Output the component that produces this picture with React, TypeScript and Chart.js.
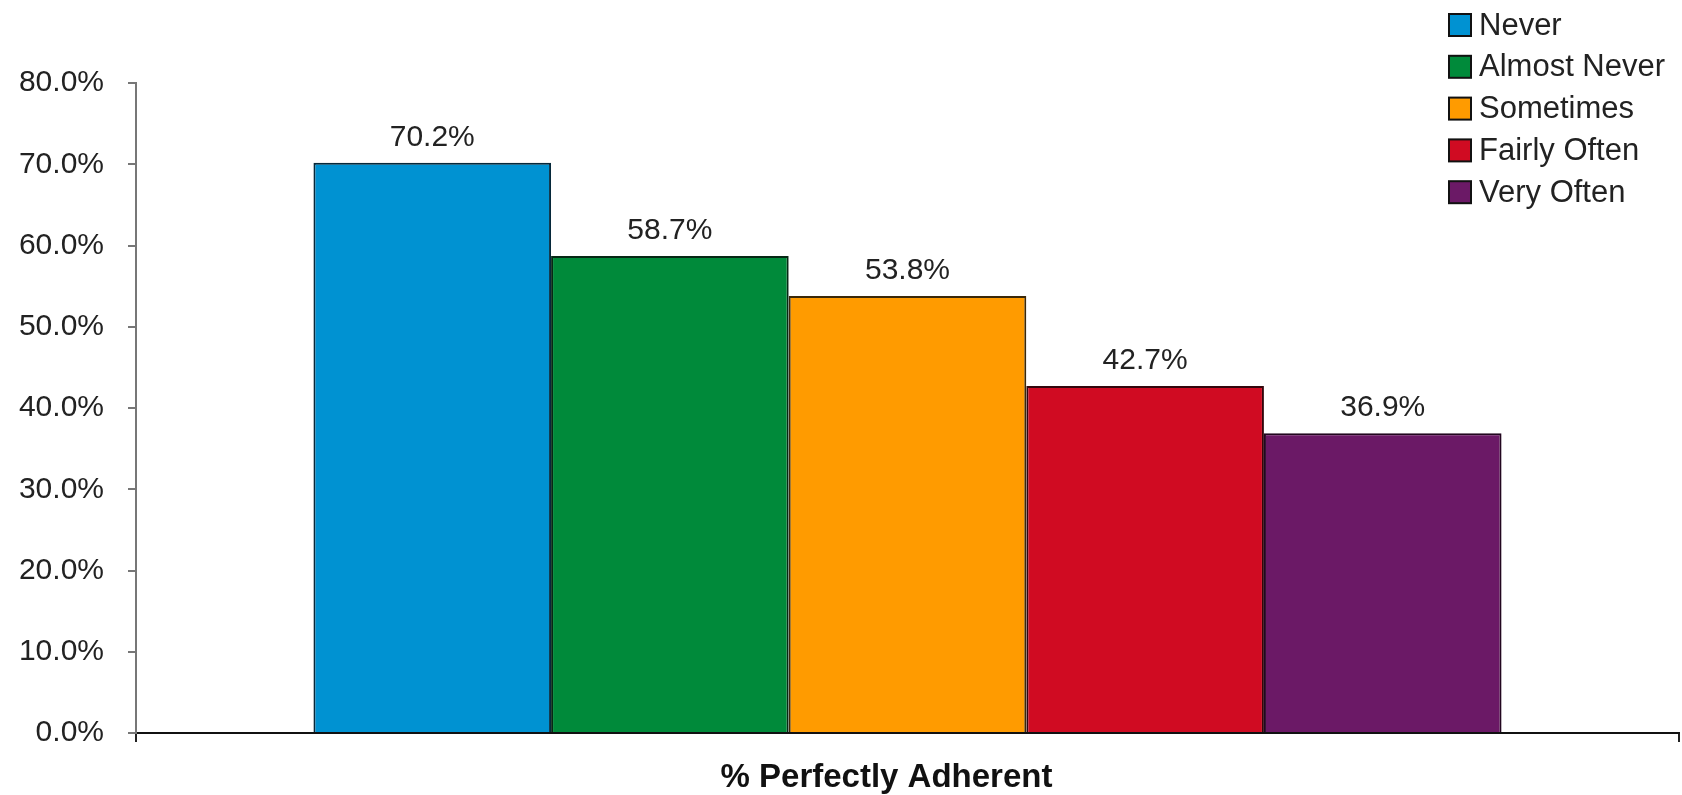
import React, { useEffect, useRef } from "react";
import { Chart, registerables } from "chart.js";

Chart.register(...registerables);

const categories = ["% Perfectly Adherent"];
const seriesNames = ["Never", "Almost Never", "Sometimes", "Fairly Often", "Very Often"];
const seriesValues = [70.2, 58.7, 53.8, 42.7, 36.9];
const seriesColors = ["#0092D2", "#008A3A", "#FF9B00", "#D00B22", "#6B1966"];
const seriesBorders = ["#06283A", "#062814", "#3A2808", "#33060C", "#22061F"];
const yTicks = [0, 10, 20, 30, 40, 50, 60, 70, 80];

const FONT = "'Liberation Sans', Arial, sans-serif";

const valueLabels = {
  id: "valueLabels",
  afterDatasetsDraw(chart: any) {
    const ctx = chart.ctx;
    ctx.save();
    ctx.font = `30px ${FONT}`;
    ctx.fillStyle = "#222";
    ctx.textAlign = "center";
    ctx.textBaseline = "alphabetic";
    chart.data.datasets.forEach((ds: any, i: number) => {
      const meta = chart.getDatasetMeta(i);
      meta.data.forEach((el: any, j: number) => {
        const v = ds.data[j];
        ctx.fillText(`${v.toFixed(1)}%`, el.x, el.y - 17);
      });
    });
    ctx.restore();
  },
};

const sideLegend = {
  id: "sideLegend",
  afterDraw(chart: any) {
    const ctx = chart.ctx;
    ctx.save();
    ctx.font = `31px ${FONT}`;
    ctx.textBaseline = "middle";
    ctx.textAlign = "left";
    const x0 = 1449;
    const y0 = 25;
    const step = 41.8;
    chart.data.datasets.forEach((ds: any, i: number) => {
      const cy = y0 + i * step;
      ctx.fillStyle = ds.backgroundColor;
      ctx.fillRect(x0, cy - 11, 22, 22);
      ctx.strokeStyle = "#111";
      ctx.lineWidth = 2;
      ctx.strokeRect(x0, cy - 11, 22, 22);
      ctx.fillStyle = "#222";
      ctx.fillText(ds.label, x0 + 30, cy + 1);
    });
    ctx.restore();
  },
};

export default function App() {
  const ref = useRef<HTMLCanvasElement | null>(null);

  useEffect(() => {
    if (!ref.current) return;
    const chart = new Chart(ref.current, {
      type: "bar",
      data: {
        labels: categories,
        datasets: seriesNames.map((name, i) => ({
          label: name,
          data: [seriesValues[i]],
          backgroundColor: seriesColors[i],
          borderColor: seriesBorders[i],
          borderWidth: 2,
          categoryPercentage: 0.77,
          barPercentage: 1,
        })),
      },
      options: {
        animation: false,
        responsive: false,
        devicePixelRatio: 1,
        layout: { padding: { top: 83, right: 3, left: 0, bottom: 0 } },
        plugins: {
          legend: { display: false },
          tooltip: { enabled: false },
        },
        scales: {
          x: {
            offset: true,
            grid: {
              display: true,
              drawOnChartArea: false,
              drawTicks: true,
              tickLength: 9,
              color: "#222",
              lineWidth: 2,
            },
            border: { display: true, color: "#111", width: 2 },
            ticks: {
              color: "#111",
              font: { family: FONT, size: 33, weight: "bold" },
              padding: 16,
              labelOffset: -21,
            },
            afterFit(scale: any) {
              scale.height = 62;
            },
          },
          y: {
            min: 0,
            max: 80,
            afterBuildTicks(scale: any) {
              scale.ticks = yTicks.map((v) => ({ value: v }));
            },
            grid: {
              display: true,
              drawOnChartArea: false,
              drawTicks: true,
              tickLength: 8,
              color: "#777",
              lineWidth: 2,
            },
            border: { display: true, color: "#777", width: 2 },
            ticks: {
              color: "#222",
              font: { family: FONT, size: 30 },
              padding: 24,
              callback: (v: any) => `${Number(v).toFixed(1)}%`,
            },
            afterFit(scale: any) {
              scale.width = 136;
            },
          },
        },
      },
      plugins: [valueLabels, sideLegend],
    });
    return () => chart.destroy();
  }, []);

  return (
    <div style={{ position: "fixed", left: 0, top: 0, width: 1682, height: 795, background: "#fff" }}>
      <canvas ref={ref} width={1682} height={795} style={{ display: "block" }} />
    </div>
  );
}
